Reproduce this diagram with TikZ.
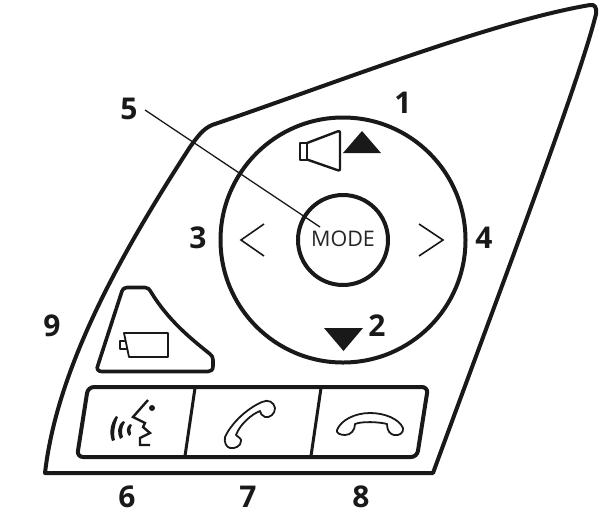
\documentclass[tikz,border=0pt]{standalone}
\usepackage{fontspec}
\setmainfont{Open Sans}
\tikzset{
  num/.style={font=\fontsize{30}{30}\selectfont\bfseries,text=black!90,inner sep=0pt},
  heavy/.style={draw=black!90,line width=4pt,line join=round},
  medium/.style={draw=black!90,line width=2.4pt,line join=round},
  thin line/.style={draw=black!90,line width=1.3pt},
}
\begin{document}
\begin{tikzpicture}[x=1pt,y=-1pt]
\useasboundingbox (0,0) rectangle (604,523);
% housing
\draw[heavy] (45,473) .. controls (58,360) and (130,240) .. (190,147)
  .. controls (198,136) and (203,129) .. (212,125)
  .. controls (330,85) and (490,22) .. (590,5)
  .. controls (595,4) and (597,8) .. (596,14)
  .. controls (580,80) and (500,290) .. (433,473) -- cycle;
% dial
\node[circle,heavy,minimum size=245pt,inner sep=0pt] (dial) at (343,240) {};
\node[circle,heavy,minimum size=90pt,inner sep=0pt] (mode) at (343,240) {};
\node[font=\fontsize{21.5}{22}\selectfont,text=black!85,inner sep=0pt] (modetext) at (343,239) {MODE};
% speaker
\draw[medium] (300,143) rectangle (307,160);
\draw[medium,rounded corners=2pt] (307,143) -- (340,130.5) -- (340,171) -- (307,159.5);
\fill[black!90] (343,153) -- (381,153) -- (362,131) -- cycle;
\fill[black!90] (324,328) -- (363,328) -- (343.5,351) -- cycle;
% chevrons
\draw[thin line,line width=1.6pt] (264,224) -- (241,240) -- (264,256);
\draw[thin line,line width=1.6pt] (419,224) -- (443,240) -- (419,256);
% battery button
\draw[heavy,line width=3.6pt] (127,287.5) -- (145,287.5) .. controls (148,287.5) and (149,289) .. (151,292)
  .. controls (168,320) and (190,338) .. (210,354)
  .. controls (212,356) and (213,357) .. (213,360) -- (213,366)
  .. controls (213,370) and (211,371.5) .. (208,371.5) -- (102,371.5)
  .. controls (98,371.5) and (96,369) .. (98,365) -- (122,291)
  .. controls (123,289) and (124,287.5) .. (127,287.5) -- cycle;
\draw[medium,line width=1.8pt] (124,333) -- (168,333) -- (168,357) -- (129,357) -- cycle;
\draw[medium,line width=1.8pt] (126,341) -- (120,341) -- (120,349) -- (128,349);
% button row
\draw[heavy,rounded corners=6pt] (88,387) -- (428,387) -- (417,457) -- (77,457) -- cycle;
\draw[heavy,line width=3pt] (195,388) -- (185,456);
\draw[heavy,line width=3pt] (321,388) -- (311,456);
% voice icon
\draw[medium,line join=miter] (148,400) -- (133,417) -- (145,423) -- (143,427) -- (150,433) -- (140,438) -- (140,445) -- (150,445);
\fill[black!90] (152,408) circle (3pt);
\fill[black!90] (116,416) .. controls (110,424) and (109,433) .. (112,441)
   -- (115,440) .. controls (113,433) and (115,424) .. (118,417) -- cycle;
\fill[black!90] (123,421) .. controls (117,426) and (117,433) .. (120,439)
   -- (123,437) .. controls (121,432) and (122,427) .. (125,422) -- cycle;
\fill[black!90] (130,424) .. controls (126,427) and (126,432) .. (129,436)
   -- (131,434) .. controls (130,431) and (130,428) .. (132,425) -- cycle;
% off-hook handset
\draw[medium,line width=1.8pt] (225,437) .. controls (232,422) and (248,408) .. (262,402)
 .. controls (268,399) and (274,402) .. (275,408)
 .. controls (275,414) and (270,418) .. (265,417)
 .. controls (262,416) and (260,413) .. (260,411)
 .. controls (252,414) and (240,424) .. (236,435)
 .. controls (238,437) and (242,439) .. (241,441)
 .. controls (241,446) and (235,449) .. (230,448)
 .. controls (226,447) and (224,442) .. (225,437) -- cycle;
% on-hook handset
\draw[medium,line width=1.8pt] (337,430) .. controls (341,420) and (355,413) .. (370,413)
 .. controls (385,413) and (399,419) .. (403,428)
 .. controls (404,433) and (399,436) .. (394,435)
 .. controls (390,434) and (387,431) .. (387,424)
 .. controls (380,422) and (362,421) .. (355,424)
 .. controls (355,430) and (351,435) .. (345,435)
 .. controls (340,435) and (336,433) .. (337,430) -- cycle;
% labels
\node[num] (n1) at (403,103) {1};
\node[num] (n2) at (377,326) {2};
\node[num] (n3) at (198,238) {3};
\node[num] (n4) at (484,238) {4};
\node[num] (n5) at (129,109) {5};
\node[num] (n6) at (127,497) {6};
\node[num] (n7) at (248,497) {7};
\node[num] (n8) at (361,497) {8};
\node[num] (n9) at (52,326) {9};
\coordinate (leadA) at (145,110);
\coordinate (leadB) at (320,227);
\draw[thin line] (leadA) -- (leadB);
\end{tikzpicture}
\end{document}
